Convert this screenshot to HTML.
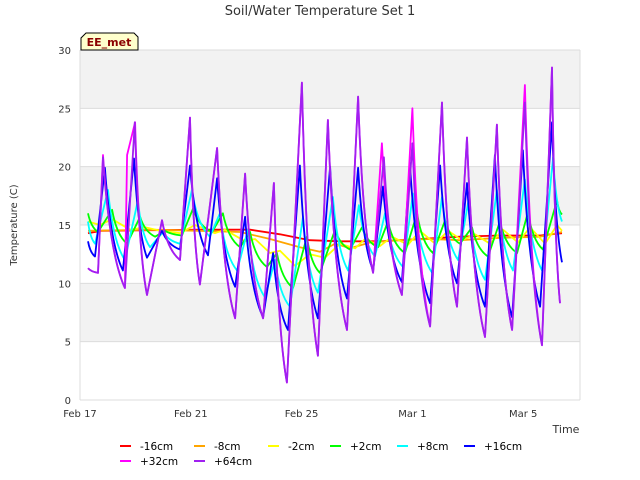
<!DOCTYPE html>
<html><head><meta charset="utf-8"><style>
body{margin:0;background:#fff;}
svg{display:block;font-family:"DejaVu Sans","Liberation Sans",sans-serif;}
</style></head><body>
<svg id="chart" width="640" height="480" viewBox="0 0 640 480">
<text x="320" y="15" text-anchor="middle" font-size="13" fill="#333">Soil/Water Temperature Set 1</text>
<g id="plot"></g>
<g id="series"></g>
<g id="axes"></g>
<g>
<path d="M86,33 L134,33 L138,37 L138,50 L81,50 L81,38 Z" fill="#ffffcc" stroke="#000" stroke-width="1"/>
<text x="109" y="46" text-anchor="middle" font-size="11" font-weight="bold" fill="#8b0000">EE_met</text>
</g>
<text x="566" y="433" text-anchor="middle" font-size="11" fill="#333">Time</text>
<text transform="translate(17,225) rotate(-90)" text-anchor="middle" font-size="10" fill="#333">Temperature (C)</text>
<g id="legend"></g>
</svg>
<script>
const yTicks = [0, 5, 10, 15, 20, 25, 30];
const xTickLabels = ["Feb 17", "Feb 21", "Feb 25", "Mar 1", "Mar 5"];
const xTickDays = [0, 4, 8, 12, 16];
const seriesNames = ["-16cm", "-8cm", "-2cm", "+2cm", "+8cm", "+16cm", "+32cm", "+64cm"];
const seriesColors = ["#ff0000", "#ffa500", "#ffff00", "#00ff00", "#00ffff", "#0000ff", "#ff00ff", "#a020f0"];

const redT = [0.29,0.79,4.33,6.14,7.22,8.30,9.39,10.83,12.27,13.72,15.16,16.61,17.40];
const redV = [14.3,14.5,14.6,14.6,14.2,13.7,13.6,13.6,13.8,14.0,14.1,14.1,14.3];
const orangeT = [0.29,2.53,4.33,5.78,6.86,7.94,8.66,9.21,9.75,10.47,11.55,12.64,13.72,15.16,16.61,17.40];
const orangeV = [14.5,14.6,14.5,14.4,13.8,13.1,12.7,13.4,13.0,13.5,13.7,13.8,13.7,13.9,14.0,14.4];
const yellowT = [0.29,0.72,1.16,1.81,2.35,2.89,3.61,4.15,4.87,5.23,5.96,6.32,6.86,7.22,7.76,8.30,8.84,9.39,9.93,10.29,10.83,11.26,11.84,12.27,12.82,13.29,13.79,14.26,14.80,15.27,15.81,16.25,16.79,17.22,17.40];
const yellowV = [15.3,15.0,15.5,14.6,14.8,14.5,14.3,15.0,14.3,14.6,13.6,13.8,12.6,12.8,11.5,12.5,12.2,13.4,13.0,13.8,13.2,14.0,13.3,14.5,13.4,14.5,13.7,14.2,13.4,14.6,13.5,14.8,13.4,15.0,14.5];
const greenT = [0.29,0.65,1.16,1.70,2.17,2.71,3.07,3.68,4.08,4.77,5.16,5.78,6.14,6.75,7.11,7.69,8.19,8.66,9.21,9.75,10.18,10.76,11.12,11.73,12.17,12.74,13.18,13.72,14.15,14.73,15.16,15.78,16.17,16.71,17.22,17.40];
const greenV = [16.0,14.4,16.3,13.4,15.7,14.0,14.5,14.1,16.4,14.4,16.0,13.1,14.4,11.4,12.6,9.6,14.0,10.9,14.6,12.9,14.8,13.1,15.3,12.6,16.0,12.6,15.4,13.4,14.8,12.3,15.3,12.6,16.1,12.9,17.1,15.9];
const cyanT = [0.29,0.54,1.01,1.62,2.09,2.53,3.00,3.61,4.04,4.69,5.05,5.67,6.06,6.68,7.04,7.58,8.05,8.59,9.13,9.68,10.07,10.65,11.01,11.66,12.02,12.71,13.07,13.65,14.01,14.62,15.05,15.63,16.06,16.68,17.08,17.40];
const cyanV = [15.3,13.4,18.0,12.0,17.1,13.1,14.4,13.4,18.0,14.0,16.0,11.1,14.6,8.8,12.0,8.0,15.7,9.2,17.4,11.1,16.7,12.3,16.0,11.4,17.7,10.9,17.4,12.0,16.9,10.3,18.0,11.1,18.9,11.1,20.8,15.3];
const blueT = [0.29,0.54,0.90,1.55,1.95,2.42,2.96,3.61,3.97,4.62,4.95,5.60,5.96,6.61,6.97,7.51,7.94,8.59,9.03,9.64,10.04,10.58,10.94,11.62,11.91,12.64,13.00,13.61,13.97,14.62,14.98,15.60,15.99,16.61,17.04,17.40];
const blueV = [13.6,12.3,19.9,11.1,20.7,12.2,14.5,12.9,20.1,12.4,19.0,9.7,15.7,7.1,12.6,6.0,20.1,7.0,20.0,8.7,19.9,11.1,18.3,10.1,20.3,8.3,20.1,10.0,18.6,8.0,21.0,7.1,21.4,8.0,23.8,11.8];
const magentaT = [0.29,0.65,0.83,1.62,1.70,1.99,2.42,2.96,3.61,3.97,4.33,4.95,5.60,5.96,6.61,7.00,7.47,8.01,8.59,8.95,9.64,10.04,10.58,10.90,11.62,12.00,12.64,13.07,13.61,13.97,14.62,15.05,15.60,16.06,16.68,17.04,17.33];
const magentaV = [11.3,10.9,21.0,9.6,21.0,23.8,9.0,15.4,12.0,24.2,9.9,21.6,7.0,19.4,7.0,18.6,1.5,27.2,3.8,24.0,6.0,26.0,10.9,22.0,9.0,25.0,6.3,25.5,8.0,22.5,5.4,23.6,6.0,27.0,4.7,28.5,8.3];
const purpleT = [0.29,0.65,0.83,1.62,1.98,2.42,2.96,3.61,3.97,4.33,4.95,5.60,5.96,6.61,7.00,7.47,8.01,8.59,8.95,9.64,10.04,10.58,10.97,11.62,12.00,12.64,13.07,13.61,13.97,14.62,15.05,15.60,16.06,16.68,17.04,17.33];
const purpleV = [11.3,10.9,20.8,9.6,23.8,9.0,15.4,12.0,24.2,9.9,21.6,7.0,19.4,7.0,18.6,1.5,27.2,3.8,24.0,6.0,26.0,10.9,20.8,9.0,22.0,6.3,25.5,8.0,22.5,5.4,23.6,6.0,25.5,4.7,28.5,8.3];

const NS = "http://www.w3.org/2000/svg";
const X0 = 80, X1 = 580, Y0 = 400, Y1 = 50, PX_PER_DAY = 27.7;
function xScale(d){ return X0 + d * PX_PER_DAY; }
function yScale(v){ return Y0 - (v - 0) / 30 * (Y0 - Y1); }
function mk(tag, attrs, parent){ const e = document.createElementNS(NS, tag); for (const k in attrs) e.setAttribute(k, attrs[k]); parent.appendChild(e); return e; }

const plot = document.getElementById("plot");
for (let i = 0; i < yTicks.length - 1; i++) {
  if (i % 2 === 1) {
    const band = mk("rect", {x: X0, y: yScale(yTicks[i+1]), width: X1 - X0, height: yScale(yTicks[i]) - yScale(yTicks[i+1]), fill: "#f2f2f2"}, plot);
    
    
  }
}
const axes = document.getElementById("axes");
yTicks.forEach(v => {
  const g = mk("line", {x1: X0, x2: X1, y1: yScale(v), y2: yScale(v), stroke: "#dcdcdc", "stroke-width": 1}, plot);
  
  
  const t = mk("text", {x: X0 - 9, y: yScale(v) + 4, "text-anchor": "end", "font-size": 10, fill: "#333"}, axes);
  t.textContent = v;
  
  
});
const vb = mk("line", {x1: X0, x2: X0, y1: Y1, y2: Y0, stroke: "#dcdcdc", "stroke-width": 1}, plot);


const rb = mk("line", {x1: X1, x2: X1, y1: Y1, y2: Y0, stroke: "#dcdcdc", "stroke-width": 1}, plot);


xTickDays.forEach((d, i) => {
  const t = mk("text", {x: xScale(d), y: 417, "text-anchor": "middle", "font-size": 10, fill: "#333"}, axes);
  t.textContent = xTickLabels[i];
  
  
});

const allT = [redT, orangeT, yellowT, greenT, cyanT, blueT, magentaT, purpleT];
const allV = [redV, orangeV, yellowV, greenV, cyanV, blueV, magentaV, purpleV];
const sg = document.getElementById("series");
allT.forEach((ts, s) => {
  const vs = allV[s];
  let d = "M" + xScale(ts[0]).toFixed(1) + "," + yScale(vs[0]).toFixed(1);
  for (let i = 1; i < ts.length; i++) {
    const xa = xScale(ts[i-1]), ya = yScale(vs[i-1]);
    const xb = xScale(ts[i]), yb = yScale(vs[i]);
    if (s >= 3 && yb > ya) {
      const cx = xa + 0.3 * (xb - xa), cy = ya + 0.75 * (yb - ya);
      d += " Q" + cx.toFixed(1) + "," + cy.toFixed(1) + " " + xb.toFixed(1) + "," + yb.toFixed(1);
    } else {
      d += " L" + xb.toFixed(1) + "," + yb.toFixed(1);
    }
  }
  const pl = mk("path", {d: d, fill: "none", stroke: seriesColors[s], "stroke-width": 1.8, "stroke-linejoin": "round"}, sg);
  
  
});

const lg = document.getElementById("legend");
const legX = [120, 194, 268, 330, 397, 464, 120, 194];
const legY = [446, 446, 446, 446, 446, 446, 461, 461];
seriesNames.forEach((n, i) => {
  const g = mk("g", {}, lg);
  
  
  mk("line", {x1: legX[i], x2: legX[i] + 11, y1: legY[i], y2: legY[i], stroke: seriesColors[i], "stroke-width": 2}, g);
  const t = mk("text", {x: legX[i] + 20, y: legY[i] + 4, "font-size": 10.5, fill: "#000"}, g);
  t.textContent = n;
});
</script>
</body></html>
